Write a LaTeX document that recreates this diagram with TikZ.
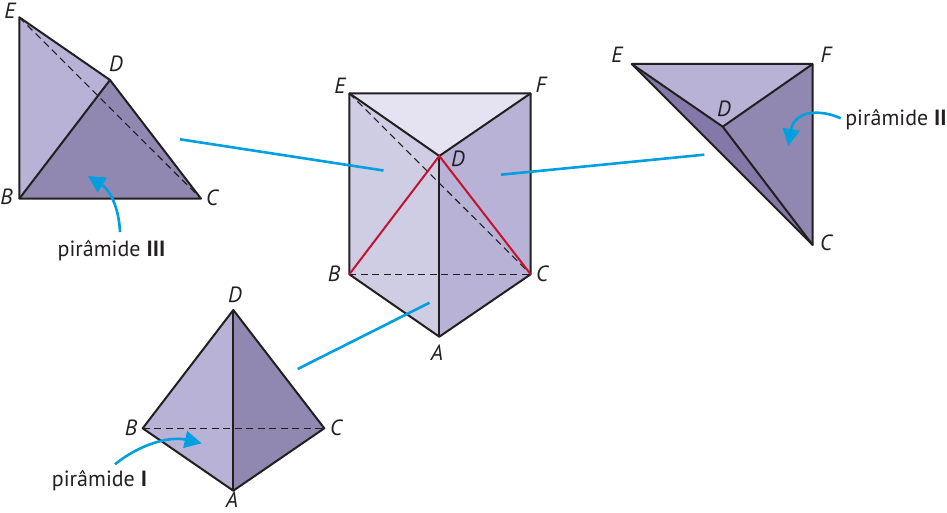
\documentclass[tikz,border=0pt]{standalone}
\usepackage{fontspec}
\setmainfont{PT Sans}
\usetikzlibrary{arrows.meta}
\definecolor{faceA}{HTML}{E5E3F1}
\definecolor{faceB}{HTML}{CFCDE4}
\definecolor{faceC}{HTML}{B8B2D7}
\definecolor{faceD}{HTML}{9088B0}
\definecolor{faceE}{HTML}{8478A8}
\definecolor{edgeK}{HTML}{231F20}
\definecolor{edgeR}{HTML}{C4122F}
\definecolor{leadB}{HTML}{00A0E0}
\tikzset{
	edge/.style={draw=edgeK, line width=2pt, line join=round},
	hidden/.style={draw=edgeK, line width=1.1pt, dash pattern=on 7pt off 4.5pt},
	redge/.style={draw=edgeR, line width=2pt},
	lead/.style={draw=leadB, line width=2.6pt},
	curved/.style={draw=leadB, line width=2.6pt, -{Triangle[length=17pt,width=17pt]}},
	vertex/.style={font=\fontsize{22}{22}\selectfont\itshape, text=edgeK, inner sep=0pt},
	caption/.style={font=\fontsize{22}{22}\selectfont, text=edgeK, inner sep=0pt}
}
\begin{document}
\begin{tikzpicture}[x=1pt, y=-1pt]
		\useasboundingbox (0,0) rectangle (947,513);
		\coordinate (E) at (349.3,93.3);
		\coordinate (F) at (530.7,93.3);
		\coordinate (D) at (439.3,156);
		\coordinate (B) at (349.3,274.3);
		\coordinate (C) at (530.7,274.3);
		\coordinate (A) at (439.3,336.7);
		\fill[faceA] (E) -- (F) -- (D) -- cycle;
		\fill[faceB] (E) -- (D) -- (A) -- (B) -- cycle;
		\fill[faceC] (D) -- (F) -- (C) -- (A) -- cycle;
		\draw[hidden] (E) -- (C);
		\draw[hidden] (B) -- (C);
		\draw[edge] (E) -- (F) -- (C) -- (A) -- (B) -- cycle;
		\draw[edge] (E) -- (D) -- (F);
		\draw[edge] (D) -- (A);
		\draw[redge] (B) -- (D) -- (C);
		\node at (340,86) [vertex] (prismE) {E};
		\node at (541,85) [vertex] (prismF) {F};
		\node at (458,159) [vertex] (prismD) {D};
		\node at (334,274) [vertex] (prismB) {B};
		\node at (542,274) [vertex] (prismC) {C};
		\node at (437,353) [vertex] (prismA) {A};

		\coordinate (E3) at (19.3,17.3);
		\coordinate (D3) at (110,80);
		\coordinate (B3) at (19.3,198.7);
		\coordinate (C3) at (201,198.7);
		\fill[faceC] (E3) -- (D3) -- (B3) -- cycle;
		\fill[faceD] (B3) -- (D3) -- (C3) -- cycle;
		\draw[hidden] (E3) -- (C3);
		\draw[edge] (E3) -- (D3) -- (C3) -- (B3) -- cycle;
		\draw[edge] (B3) -- (D3);
		\node at (10,11) [vertex] (thirdE) {E};
		\node at (116,64) [vertex] (thirdD) {D};
		\node at (6.5,197) [vertex] (thirdB) {B};
		\node at (212,198) [vertex] (thirdC) {C};
		\node at (111.5,251) [caption] (third) {pirâmide \textbf{III}};

		\coordinate (E2) at (631.7,64);
		\coordinate (F2) at (812.7,64);
		\coordinate (D2) at (722.7,126.7);
		\coordinate (C2) at (812.7,245);
		\fill[faceC] (E2) -- (F2) -- (D2) -- cycle;
		\fill[faceD] (D2) -- (F2) -- (C2) -- cycle;
		\fill[faceE] (E2) -- (D2) -- (C2) -- cycle;
		\draw[edge] (E2) -- (F2) -- (C2) -- cycle;
		\draw[edge] (E2) -- (D2) -- (F2);
		\draw[edge] (D2) -- (C2);
		\node at (617,55) [vertex] (secondE) {E};
		\node at (826,55) [vertex] (secondF) {F};
		\node at (724,109) [vertex] (secondD) {D};
		\node at (826,243) [vertex] (secondC) {C};
		\node at (896,120) [caption] (second) {pirâmide \textbf{II}};

		\coordinate (D1) at (233.3,310);
		\coordinate (B1) at (142.7,428.3);
		\coordinate (C1) at (324.3,428.3);
		\coordinate (A1) at (233.3,490.7);
		\fill[faceC] (B1) -- (D1) -- (A1) -- cycle;
		\fill[faceD] (D1) -- (C1) -- (A1) -- cycle;
		\draw[hidden] (B1) -- (C1);
		\draw[edge] (D1) -- (C1) -- (A1) -- (B1) -- cycle;
		\draw[edge] (D1) -- (A1);
		\node at (235,295) [vertex] (firstD) {D};
		\node at (131,428) [vertex] (firstB) {B};
		\node at (336,428) [vertex] (firstC) {C};
		\node at (232,500) [vertex] (firstA) {A};
		\node at (99.5,481) [caption] (first) {pirâmide \textbf{I}};

		\coordinate (lead3a) at (180,139.3);
		\coordinate (lead3b) at (383.5,170.5);
		\coordinate (lead2a) at (501,174.7);
		\coordinate (lead2b) at (704.3,154.7);
		\coordinate (lead1a) at (297.7,369);
		\coordinate (lead1b) at (429.5,302.7);
		\draw[lead] (lead3a) -- (lead3b);
		\draw[lead] (lead2a) -- (lead2b);
		\draw[lead] (lead1a) -- (lead1b);

		\coordinate (arrow3a) at (120,232);
		\coordinate (arrow3b) at (88,176);
		\coordinate (arrow2a) at (840.7,118.3);
		\coordinate (arrow2b) at (788.3,146);
		\coordinate (arrow1a) at (115,464.3);
		\coordinate (arrow1b) at (201.7,443.3);
		\draw[curved] (arrow3a) .. controls (119,208) and (110,190) .. (arrow3b);
		\draw[curved] (arrow2a) .. controls (818,108) and (794,112) .. (arrow2b);
		\draw[curved] (arrow1a) .. controls (140,444) and (170,436) .. (arrow1b);
	\end{tikzpicture}
\end{document}
